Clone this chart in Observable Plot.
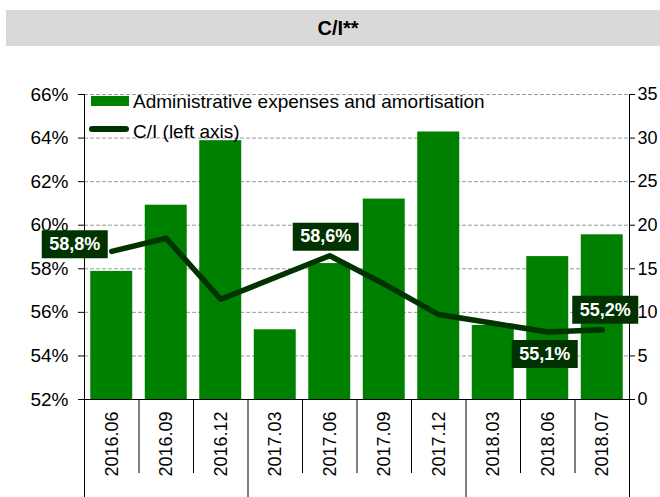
<!DOCTYPE html>
<html>
<head>
<meta charset="utf-8">
<script src="https://cdn.jsdelivr.net/npm/d3@7"></script>
<script src="https://cdn.jsdelivr.net/npm/@observablehq/plot@0.6"></script>
<style>
  html, body { margin: 0; padding: 0; background: #fff; }
  #wrap { position: relative; width: 660px; height: 497px; overflow: hidden; background: #fff;
          font-family: "Liberation Sans", Arial, sans-serif; }
  #title { position: absolute; left: 6px; top: 10px; width: 664px; height: 36px; background: #d9d9d9;
           font-weight: bold; font-size: 20px; display: flex; align-items: center; justify-content: center; color: #000; }
  #chart { position: absolute; left: 0; top: 50px; }
  .lg { position: absolute; }
  .lgt { position: absolute; font-size: 19px; line-height: 19px; color: #000; white-space: nowrap; }
</style>
</head>
<body>
<div id="wrap">
  <div id="title">C/I**</div>
  <div id="chart"></div>
  <div class="lg" style="left:91px;top:96px;width:38px;height:10px;background:#008000"></div>
  <div class="lgt" style="left:133px;top:92px">Administrative expenses and amortisation</div>
  <div class="lg" style="left:89px;top:126px;width:40px;height:6px;border-radius:3px;background:#003300"></div>
  <div class="lgt" style="left:133px;top:122px">C/I (left axis)</div>
</div>
<script>
// ---- data ----
const categories = ["2016.06","2016.09","2016.12","2017.03","2017.06","2017.09","2017.12","2018.03","2018.06","2018.07"];
const adminCosts = [14.7, 22.3, 29.7, 8.0, 15.6, 23.0, 30.7, 8.5, 16.4, 18.9]; // right axis
const ciRatio = [58.8, 59.4, 56.6, 57.6, 58.6, 57.3, 55.9, 55.5, 55.1, 55.2];  // left axis, %
const labelIndex = [0, 4, 8, 9];
const leftTicks = [52, 54, 56, 58, 60, 62, 64, 66];
const rightTicks = [0, 5, 10, 15, 20, 25, 30, 35];

// ---- styling / layout ----
const labelOffsets = {0: [-37, -7], 4: [-4, -19], 8: [-3, 22], 9: [3, -20]};
const BAR = "#008000", LINE = "#003300";
const yMin = 52, yMax = 66, rMax = 35;
const toLeft = v => yMin + v * (yMax - yMin) / rMax;   // right-axis value -> left-axis units
const pad = 0.115;

const idx = categories.map((_, i) => i);
const boxSymbol = { draw(ctx) { ctx.rect(-33, -14, 66, 28); } };

const marks = [
  Plot.ruleY(leftTicks.filter(d => d > yMin), {stroke: "#9a9a9a", strokeDasharray: "4,2", strokeWidth: 1}),
  Plot.rect(idx, {x1: i => i + pad, x2: i => i + 1 - pad, y1: yMin, y2: i => toLeft(adminCosts[i]), fill: BAR}),
  Plot.ruleY([yMin], {stroke: "#000"}),
  Plot.ruleX([0, 10], {stroke: "#000"}),
  Plot.axisY({anchor: "left", ticks: leftTicks, tickFormat: d => d + "%", tickSize: 6, tickPadding: 10, label: null, fontSize: 19}),
  Plot.axisY({anchor: "right", ticks: rightTicks.map(toLeft), tickFormat: d => String(Math.round((d - yMin) * rMax / (yMax - yMin))), tickSize: 5, tickPadding: 3, label: null, fontSize: 18}),
  Plot.axisX({ticks: [1, 2, 4, 5, 6, 8, 9], tickSize: 74, tickFormat: () => "", label: null}),
  Plot.axisX({ticks: [0, 3, 7, 10], tickSize: 100, tickFormat: () => "", label: null}),
  Plot.axisX({ticks: idx.map(i => i + 0.5), tickFormat: d => categories[Math.floor(d)], tickSize: 0, tickRotate: -90, tickPadding: 12, label: null, fontSize: 18}),
  Plot.line(idx, {x: i => i + 0.5, y: i => ciRatio[i], stroke: LINE, strokeWidth: 5.5, strokeLinecap: "round", strokeLinejoin: "round"})
];
for (const i of labelIndex) {
  const [dx, dy] = labelOffsets[i];
  marks.push(Plot.dot([i], {x: j => j + 0.5, y: j => ciRatio[j], dx, dy, symbol: boxSymbol, r: 5, fill: LINE}));
  marks.push(Plot.text([i], {x: j => j + 0.5, y: j => ciRatio[j], dx, dy, text: j => ciRatio[j].toFixed(1).replace(".", ",") + "%",
    fill: "#fff", fontWeight: "bold", fontSize: 18}));
}

const chart = Plot.plot({
  width: 660,
  height: 447,
  marginLeft: 84,
  marginRight: 31,
  marginTop: 44,
  marginBottom: 98,
  x: {type: "linear", domain: [0, 10]},
  y: {domain: [yMin, yMax]},
  style: {fontFamily: "'Liberation Sans', Arial, sans-serif", fontSize: "18px", color: "#000", background: "transparent", overflow: "visible"},
  marks
});
document.getElementById("chart").appendChild(chart);
</script>
</body>
</html>
